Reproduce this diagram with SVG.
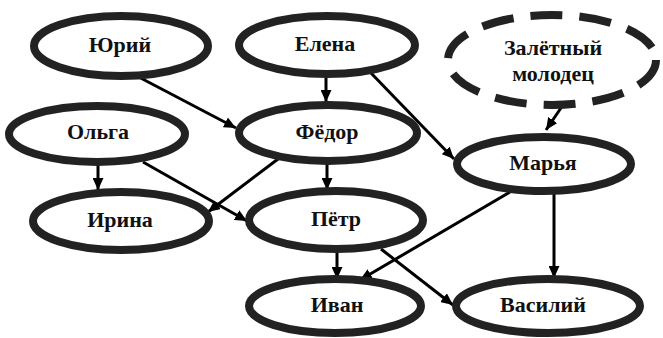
<svg xmlns="http://www.w3.org/2000/svg" width="663" height="338" viewBox="0 0 663 338">
<style>
.node ellipse{fill:#fff;stroke:#222;stroke-width:8}
.node.dashed ellipse{stroke-dasharray:32 17}
.node text{font-family:'Liberation Serif','Times New Roman',serif;font-weight:700;font-size:22px;fill:#111;text-anchor:middle}
.edges line{stroke:#000;stroke-width:3;marker-end:url(#arr)}
</style>
<defs>
<marker id="arr" markerUnits="userSpaceOnUse" markerWidth="13" markerHeight="11" refX="12" refY="5.5" orient="auto">
<path d="M0,0 L12,5.5 L0,11 z" fill="#000"/>
</marker>
</defs>
<rect width="663" height="338" fill="#fff"/>
<g id="edges" class="edges">
<line x1="133" y1="74" x2="236" y2="128"/>
<line x1="326" y1="72" x2="326" y2="102"/>
<line x1="370" y1="72" x2="454" y2="159"/>
<line x1="565" y1="102" x2="546" y2="130"/>
<line x1="98" y1="162" x2="98" y2="190"/>
<line x1="143" y1="162" x2="247" y2="221"/>
<line x1="282" y1="156" x2="208" y2="212"/>
<line x1="327" y1="162" x2="327" y2="190"/>
<line x1="510" y1="192" x2="360" y2="280"/>
<line x1="554" y1="192" x2="554" y2="278"/>
<line x1="337" y1="250" x2="337" y2="279"/>
<line x1="381" y1="249" x2="453" y2="305"/>
</g>
<g id="n-yuriy" class="node"><ellipse cx="121" cy="46" rx="87" ry="30"/><text x="120" y="52">Юрий</text></g>
<g id="n-elena" class="node"><ellipse cx="327" cy="45" rx="88" ry="29"/><text x="325" y="51">Елена</text></g>
<g id="n-zaletny" class="node dashed"><ellipse cx="552" cy="60" rx="104" ry="45"/><text x="553" y="55">Залётный</text><text x="553" y="81">молодец</text></g>
<g id="n-olga" class="node"><ellipse cx="97" cy="134" rx="88" ry="28"/><text x="98" y="139">Ольга</text></g>
<g id="n-fedor" class="node"><ellipse cx="328" cy="133" rx="89" ry="28"/><text x="327" y="139">Фёдор</text></g>
<g id="n-marya" class="node"><ellipse cx="544" cy="164" rx="87" ry="27"/><text x="543" y="170">Марья</text></g>
<g id="n-irina" class="node"><ellipse cx="121" cy="221" rx="88" ry="29"/><text x="120" y="227">Ирина</text></g>
<g id="n-petr" class="node"><ellipse cx="336" cy="220" rx="87" ry="29"/><text x="336" y="226">Пётр</text></g>
<g id="n-ivan" class="node"><ellipse cx="335" cy="306" rx="86" ry="27"/><text x="337" y="312">Иван</text></g>
<g id="n-vasiliy" class="node"><ellipse cx="548" cy="306" rx="92" ry="27"/><text x="543" y="312">Василий</text></g>
</svg>
